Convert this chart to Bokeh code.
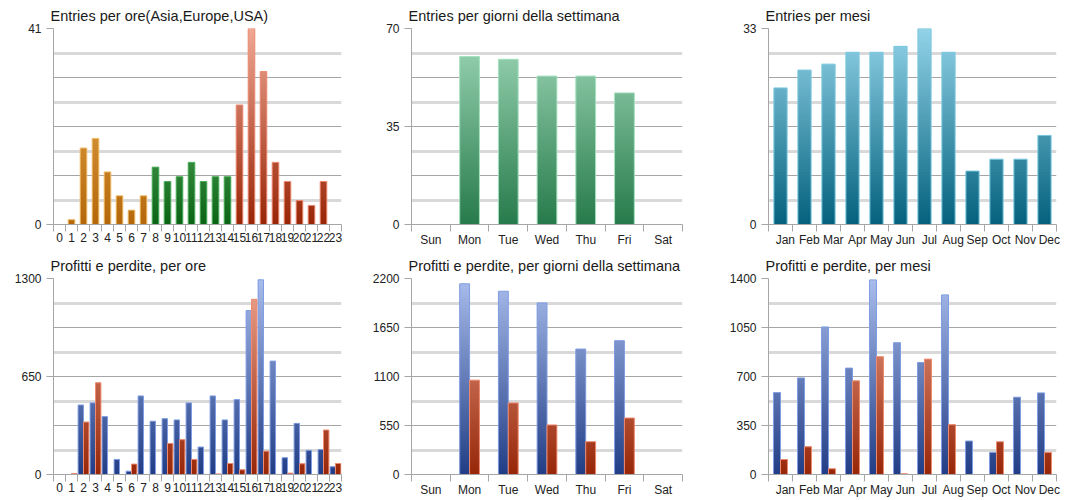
from bokeh.plotting import figure
from bokeh.models import FixedTicker, Range1d, Grid
from bokeh.layouts import column, row
from bokeh.embed import file_html
from bokeh.resources import INLINE

# ---------------- data ----------------
hours = [str(h) for h in range(24)]
hour_entries = [0, 1, 16, 18, 11, 6, 3, 6, 12, 9, 10, 13, 9, 10, 10, 25, 41, 32, 13, 9, 5, 4, 9, 0]
hour_region = ["Asia"] * 8 + ["Europe"] * 7 + ["USA"] * 9

days = ["Sun", "Mon", "Tue", "Wed", "Thu", "Fri", "Sat"]
day_entries = [0, 60, 59, 53, 53, 47, 0]

months = ["Jan", "Feb", "Mar", "Apr", "May", "Jun", "Jul", "Aug", "Sep", "Oct", "Nov", "Dec"]
month_entries = [23, 26, 27, 29, 29, 30, 33, 29, 9, 11, 11, 15]

hour_profit = [0, 0, 461, 475, 384, 100, 22, 521, 353, 370, 362, 475, 182, 521, 362, 497,
               1087, 1291, 752, 111, 339, 160, 166, 51]
hour_loss = [0, 7, 348, 608, 0, 0, 69, 0, 0, 206, 231, 100, 0, 4, 73, 31,
             1162, 155, 0, 9, 71, 0, 295, 73]

day_profit = [0, 2140, 2057, 1926, 1408, 1502, 0]
day_loss = [0, 1059, 803, 556, 368, 634, 0]

month_profit = [585, 690, 1054, 760, 1390, 941, 800, 1283, 239, 158, 552, 583]
month_loss = [107, 198, 41, 669, 841, 5, 824, 356, 0, 234, 0, 158]

# axis scales and tick labels
yticks_hour_entries = [0, 41]
yticks_day_entries = [0, 35, 70]
yticks_month_entries = [0, 33]
yticks_hour_pl = [0, 650, 1300]
yticks_day_pl = [0, 550, 1100, 1650, 2200]
yticks_month_pl = [0, 350, 700, 1050, 1400]

# ---------------- style ----------------
FONT = "Liberation Sans"
GRAY = "#a6a6a6"
LIGHT = "#d9d9d9"
U = 10
FH = 196
NSLICE = 60

STYLES = {
    "Asia": ("#b3670a", "#f4bb62", "#f2bd6a"),
    "Europe": ("#0b6416", "#8ad48c", "#4fb25e"),
    "USA": ("#982507", "#efa894", "#ee8c74"),
    "day": ("#277a4b", "#a0d9b9", "#a6e2c0"),
    "month": ("#04617d", "#92d3e8", "#7cc9e2"),
    "profit": ("#213d85", "#a9bdec", "#7f9de2"),
    "loss": ("#962607", "#efa793", "#ee8a70"),
}


def rgb(h):
    return tuple(int(h[i:i + 2], 16) for i in (1, 3, 5))


def mix(c0, c1, t):
    a, b = rgb(c0), rgb(c1)
    return "#%02x%02x%02x" % tuple(int(round(a[i] + (b[i] - a[i]) * t)) for i in range(3))


def make_fig(title, labels, ymax, yticks, fw, ml, mr, mt, mb, label_shift=0):
    n = len(labels)
    p = figure(frame_width=fw, frame_height=FH, x_range=Range1d(0, n * U), y_range=Range1d(0, ymax),
               output_backend="svg", toolbar_location=None,
               min_border_left=ml, min_border_right=mr, min_border_top=mt, min_border_bottom=mb,
               outline_line_color=None, background_fill_color="white", border_fill_color="white")
    p.title.text = title
    p.title.text_font = FONT
    p.title.text_font_size = "14.5px"
    p.title.text_font_style = "normal"
    p.title.text_color = "#1a1a1a"
    p.title.offset = -3
    p.title.standoff = 10

    centers = [i * U + U // 2 + label_shift for i in range(n)]
    p.xaxis.ticker = FixedTicker(ticks=centers, minor_ticks=[i * U for i in range(n + 1)])
    p.xaxis.major_label_overrides = {c: lab for c, lab in zip(centers, labels)}
    p.xaxis.axis_line_color = GRAY
    p.xaxis.major_tick_out = 0
    p.xaxis.major_tick_in = 0
    p.xaxis.minor_tick_out = 7
    p.xaxis.minor_tick_in = 0
    p.xaxis.minor_tick_line_color = GRAY
    p.xaxis.major_label_standoff = 1
    p.xaxis.major_label_text_font = FONT
    p.xaxis.major_label_text_font_size = "12px"
    p.xaxis.major_label_text_color = "#222222"

    p.yaxis.ticker = FixedTicker(ticks=yticks, minor_ticks=[])
    p.yaxis.axis_line_color = GRAY
    p.yaxis.major_tick_out = 7
    p.yaxis.major_tick_in = 0
    p.yaxis.major_tick_line_color = GRAY
    p.yaxis.minor_tick_out = 0
    p.yaxis.minor_tick_in = 0
    p.yaxis.major_label_standoff = 5
    p.yaxis.major_label_text_font = FONT
    p.yaxis.major_label_text_font_size = "12px"
    p.yaxis.major_label_text_color = "#222222"

    p.xgrid.visible = False
    p.ygrid.ticker = FixedTicker(ticks=[ymax * k / 8 for k in (2, 4, 6, 8)])
    p.ygrid.grid_line_color = GRAY
    p.ygrid.grid_line_width = 1
    g2 = Grid(dimension=1, ticker=FixedTicker(ticks=[ymax * k / 8 for k in (1, 3, 5, 7)]),
              grid_line_color=LIGHT, grid_line_width=3)
    p.add_layout(g2)
    return p


def grad_bars(p, xs, vals, width, ymax, style):
    bot, top, edge = STYLES[style]
    step = ymax / NSLICE
    bx, bb, bt, bc = [], [], [], []
    for x, v in zip(xs, vals):
        k = 0
        while k * step < v:
            lo = k * step
            hi = min(v, lo + 1.6 * step)
            bx.append(x)
            bb.append(lo)
            bt.append(hi)
            bc.append(mix(bot, top, min(1.0, (lo + 0.5 * step) / ymax)))
            k += 1
    if bx:
        p.vbar(x=bx, bottom=bb, top=bt, width=width, fill_color=bc, line_color=None)
    ox = [x for x, v in zip(xs, vals) if v > 0]
    ov = [v for v in vals if v > 0]
    if ox:
        p.vbar(x=ox, top=ov, width=width, fill_color=None, line_color=edge, line_width=1)


def centers_of(n):
    return [i * U + U / 2 for i in range(n)]


FW = [288, 271, 288]
ML = [53, 50, 50]
MR = [20, 36, 10]
MT = [28, 28]
MB = [26, 26]

# ---- row 1 ----
p1 = make_fig("Entries per ore(Asia,Europe,USA)", hours, yticks_hour_entries[-1], yticks_hour_entries,
              FW[0], ML[0], MR[0], MT[0], MB[0])
hc = centers_of(len(hours))
for reg in ("Asia", "Europe", "USA"):
    xs = [x for x, r in zip(hc, hour_region) if r == reg]
    vs = [v for v, r in zip(hour_entries, hour_region) if r == reg]
    grad_bars(p1, xs, vs, 0.55 * U, yticks_hour_entries[-1], reg)

p2 = make_fig("Entries per giorni della settimana", days, yticks_day_entries[-1], yticks_day_entries,
              FW[1], ML[1], MR[1], MT[0], MB[0])
grad_bars(p2, centers_of(len(days)), day_entries, 0.51 * U, yticks_day_entries[-1], "day")

p3 = make_fig("Entries per mesi", months, yticks_month_entries[-1], yticks_month_entries,
              FW[2], ML[2], MR[2], MT[0], MB[0], label_shift=2)
grad_bars(p3, centers_of(len(months)), month_entries, 0.55 * U, yticks_month_entries[-1], "month")

# ---- row 2 ----
p4 = make_fig("Profitti e perdite, per ore", hours, yticks_hour_pl[-1], yticks_hour_pl,
              FW[0], ML[0], MR[0], MT[1], MB[1])
w = 0.45 * U
grad_bars(p4, [c - w / 2 for c in hc], hour_profit, w, yticks_hour_pl[-1], "profit")
grad_bars(p4, [c + w / 2 for c in hc], hour_loss, w, yticks_hour_pl[-1], "loss")

p5 = make_fig("Profitti e perdite, per giorni della settimana", days, yticks_day_pl[-1], yticks_day_pl,
              FW[1], ML[1], MR[1], MT[1], MB[1])
dc = centers_of(len(days))
w = 0.255 * U
grad_bars(p5, [c - w / 2 for c in dc], day_profit, w, yticks_day_pl[-1], "profit")
grad_bars(p5, [c + w / 2 for c in dc], day_loss, w, yticks_day_pl[-1], "loss")

p6 = make_fig("Profitti e perdite, per mesi", months, yticks_month_pl[-1], yticks_month_pl,
              FW[2], ML[2], MR[2], MT[1], MB[1], label_shift=2)
mc = centers_of(len(months))
w = 0.29 * U
grad_bars(p6, [c - w / 2 for c in mc], month_profit, w, yticks_month_pl[-1], "profit")
grad_bars(p6, [c + w / 2 for c in mc], month_loss, w, yticks_month_pl[-1], "loss")

layout = column(row(p1, p2, p3), row(p4, p5, p6))

with open("out.html", "w") as f:
    f.write(file_html(layout, INLINE))
